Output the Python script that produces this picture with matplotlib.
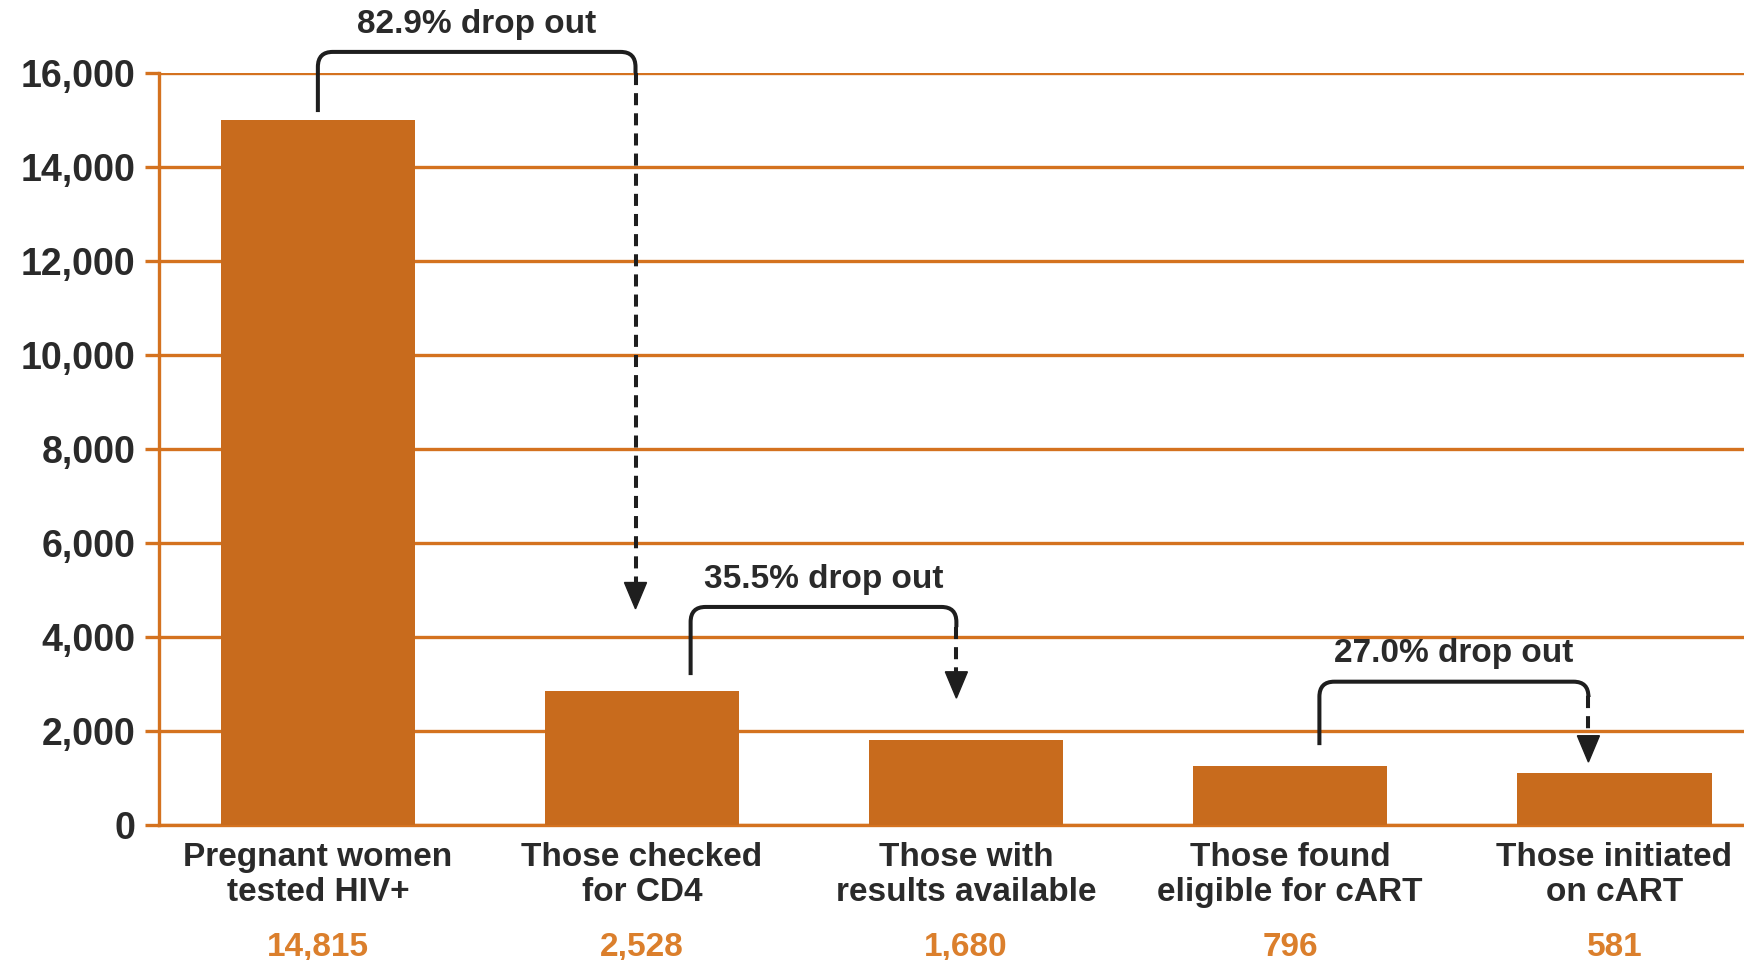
import numpy as np
import matplotlib.pyplot as plt
from matplotlib.path import Path
from matplotlib.patches import PathPatch

plt.rcParams['font.family'] = ['Liberation Sans', 'DejaVu Sans']
plt.rcParams['font.weight'] = 'bold'


# dados

categorias = [
    "Pregnant women\ntested HIV+",
    "Those checked\nfor CD4",
    "Those with\nresults available",
    "Those found\neligible for cART",
    "Those initiated\non cART",
]

alturas = [15000, 2850, 1800, 1250, 1100]

valores = ["14,815", "2,528", "1,680", "796", "581"]

yticks = [0, 2000, 4000, 6000, 8000, 10000, 12000, 14000, 16000]
ytick_labels = ["0", "2,000", "4,000", "6,000", "8,000", "10,000", "12,000", "14,000", "16,000"]

drop_labels = ["82.9% drop out", "35.5% drop out", "27.0% drop out"]


# cores

laranja_barra = "#C86B1D"
laranja_grade = "#D4721F"
laranja_valor = "#DB7F2C"
texto = "#2a2a2a"


fig = plt.figure(figsize=(17.44, 9.6), dpi=100)
ax = fig.add_axes([0.0912, 0.1406, 0.9088, 0.7833])

x = np.arange(len(categorias))

ax.bar(x, alturas, width=0.6, color=laranja_barra, zorder=3)

ax.set_xlim(-0.49, 4.40)
ax.set_ylim(0, 16000)

ax.set_yticks(yticks)
ax.set_yticklabels(ytick_labels, fontsize=27, color=texto, fontweight="bold")
ax.tick_params(axis="y", length=10, width=2.4, color=laranja_grade, pad=7)
ax.yaxis.grid(True, color=laranja_grade, linewidth=2.4, zorder=1)
ax.set_axisbelow(True)

ax.set_xticks(x)
ax.set_xticklabels(categorias, fontsize=24, color=texto, fontweight="bold", linespacing=1.2)
ax.tick_params(axis="x", length=0, pad=12)

for lado in ["top", "right"]:
    ax.spines[lado].set_visible(False)
for lado in ["left", "bottom"]:
    ax.spines[lado].set_color(laranja_grade)
    ax.spines[lado].set_linewidth(2.4)

# valores abaixo das categorias
for i, v in enumerate(valores):
    ax.text(i, -0.163, v, transform=ax.get_xaxis_transform(), ha="center", va="center",
            fontsize=24, color=laranja_valor, fontweight="bold", clip_on=False)


# chaves de "drop out"

chaves = [
    # x0, x1, y_base, y_topo, y_tracejado, y_ponta
    (0.0, 0.98, 15170, 16450, 16000, 4600),
    (1.15, 1.97, 3190, 4640, 4210, 2700),
    (3.09, 3.92, 1700, 3050, 2750, 1340),
]

rx = 0.046
ry = 320
meia_ponta = 0.034
alt_ponta = 560

for (x0, x1, yb, yt, yd, yp), rotulo in zip(chaves, drop_labels):
    verts = [
        (x0, yb),
        (x0, yt - ry),
        (x0, yt),
        (x0 + rx, yt),
        (x1 - rx, yt),
        (x1, yt),
        (x1, yt - ry),
        (x1, yd),
    ]
    codes = [Path.MOVETO, Path.LINETO, Path.CURVE3, Path.CURVE3,
             Path.LINETO, Path.CURVE3, Path.CURVE3, Path.LINETO]
    ax.add_patch(PathPatch(Path(verts, codes), fill=False, edgecolor="#1e1e1e",
                           linewidth=2.9, capstyle="butt", clip_on=False, zorder=5))

    ax.plot([x1, x1], [yd, yp + alt_ponta], color="#1e1e1e", linewidth=2.9,
            linestyle=(0, (3, 2)), clip_on=False, zorder=5)

    ax.fill([x1 - meia_ponta, x1 + meia_ponta, x1], [yp + alt_ponta, yp + alt_ponta, yp],
            color="#1e1e1e", clip_on=False, zorder=5)

    ax.annotate(rotulo, xy=((x0 + x1) / 2, yt), xytext=(0, 20), textcoords="offset points",
                ha="center", va="center", fontsize=24, color=texto, fontweight="bold",
                annotation_clip=False)


fig.savefig("out.png", dpi=100)
